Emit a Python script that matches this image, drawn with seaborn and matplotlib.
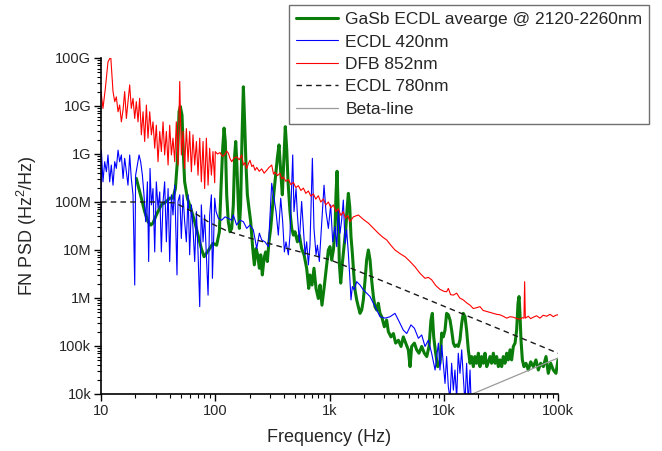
import numpy as np
import pandas as pd
import matplotlib
matplotlib.use("Agg")
import matplotlib.pyplot as plt
import seaborn as sns
from matplotlib.ticker import FixedLocator, FixedFormatter, LogLocator, NullFormatter

# ---------------- data: (log10 frequency [Hz], log10 FN PSD [Hz^2/Hz]) ----------------
labels = ["GaSb ECDL avearge @ 2120-2260nm", "ECDL 420nm", "DFB 852nm", "ECDL 780nm", "Beta-line"]

gasb = [
    (1.309, 8.49), (1.353, 8.08), (1.382, 7.80), (1.411, 7.59), (1.435, 7.52), (1.455, 7.56), (1.484, 7.73),
    (1.528, 7.94), (1.572, 8.01), (1.601, 8.08), (1.630, 8.08), (1.651, 8.28), (1.668, 8.84), (1.683, 9.88),
    (1.694, 9.99), (1.709, 9.81), (1.721, 8.98), (1.732, 8.42), (1.756, 8.08), (1.785, 7.87), (1.820, 7.59),
    (1.849, 7.31), (1.878, 7.03), (1.902, 6.86), (1.922, 6.93), (1.951, 7.03), (1.980, 7.14),
    (2.012, 7.10), (2.036, 7.38), (2.050, 8.28), (2.065, 9.12), (2.077, 9.54), (2.088, 9.26), (2.100, 8.15),
    (2.114, 7.59), (2.129, 7.38), (2.144, 7.45), (2.158, 7.94), (2.170, 8.98), (2.179, 9.26), (2.187, 8.91),
    (2.202, 7.94), (2.211, 7.45), (2.222, 7.94), (2.234, 9.33), (2.246, 10.40), (2.257, 9.67), (2.269, 8.77),
    (2.281, 8.15), (2.295, 7.87), (2.310, 7.59), (2.328, 7.03), (2.342, 6.69), (2.357, 7.03), (2.371, 6.90),
    (2.386, 6.62), (2.398, 6.90), (2.412, 6.48), (2.427, 6.83), (2.441, 6.96), (2.456, 6.76), (2.470, 7.17),
    (2.485, 7.45), (2.503, 7.94), (2.523, 8.42), (2.543, 8.91), (2.558, 9.19), (2.573, 8.63), (2.587, 8.15),
    (2.602, 8.98), (2.613, 9.57), (2.625, 9.12), (2.637, 8.42), (2.654, 7.80), (2.669, 7.45), (2.684, 7.31),
    (2.698, 7.38), (2.719, 7.17), (2.736, 7.31), (2.756, 7.03), (2.777, 6.90), (2.800, 6.62), (2.818, 6.20),
    (2.829, 6.48), (2.847, 6.27), (2.864, 6.62), (2.882, 6.20), (2.902, 5.99), (2.917, 6.27), (2.934, 5.85),
    (2.952, 6.20), (2.969, 6.55), (2.990, 7.00), (3.004, 7.07), (3.019, 6.79), (3.034, 7.00), (3.048, 7.42),
    (3.057, 8.18), (3.066, 8.64), (3.074, 8.04), (3.086, 6.72), (3.098, 6.31), (3.112, 6.72), (3.127, 7.07),
    (3.142, 7.42), (3.153, 7.83), (3.165, 8.18), (3.177, 7.90), (3.188, 7.28), (3.200, 6.93), (3.212, 6.51),
    (3.223, 6.17), (3.238, 5.96), (3.252, 5.82), (3.267, 5.68), (3.282, 5.75), (3.296, 5.96), (3.311, 6.37),
    (3.325, 6.79), (3.340, 7.00), (3.355, 6.79), (3.369, 6.37), (3.384, 6.03), (3.398, 5.82), (3.413, 5.75),
    (3.427, 5.89), (3.442, 5.68), (3.457, 5.61), (3.480, 5.40), (3.500, 5.54), (3.515, 5.30), (3.538, 5.19),
    (3.559, 5.26), (3.579, 5.06), (3.603, 5.12), (3.626, 4.99), (3.646, 5.19), (3.667, 5.06), (3.690, 4.92),
    (3.705, 4.57), (3.719, 4.99), (3.743, 5.06), (3.763, 4.92), (3.783, 4.85), (3.807, 4.99), (3.830, 4.85),
    (3.851, 4.78), (3.871, 4.99), (3.888, 5.54), (3.900, 5.68), (3.912, 5.19), (3.929, 4.85), (3.947, 4.57),
    (3.967, 4.64), (3.982, 5.27), (3.996, 5.19), (4.011, 5.33), (4.025, 5.68), (4.040, 5.65), (4.055, 5.54),
    (4.069, 5.33), (4.084, 5.06), (4.098, 4.99), (4.113, 5.02), (4.127, 4.99), (4.142, 5.13), (4.157, 5.47),
    (4.171, 5.68), (4.186, 5.61), (4.200, 5.33), (4.215, 4.92), (4.230, 4.64), (4.244, 4.78), (4.259, 4.57),
    (4.273, 4.78), (4.288, 4.64), (4.303, 4.85), (4.317, 4.57), (4.332, 4.78), (4.346, 4.64), (4.361, 4.85),
    (4.376, 4.57), (4.390, 4.66), (4.405, 4.78), (4.419, 4.64), (4.434, 4.85), (4.449, 4.64), (4.463, 4.78),
    (4.478, 4.57), (4.492, 4.71), (4.507, 4.57), (4.521, 4.78), (4.536, 4.64), (4.551, 4.85), (4.565, 4.71),
    (4.580, 4.92), (4.594, 4.71), (4.609, 4.99), (4.624, 5.06), (4.638, 5.33), (4.650, 5.89), (4.659, 6.03),
    (4.667, 5.68), (4.676, 5.13), (4.688, 4.71), (4.702, 4.57), (4.720, 4.64), (4.740, 4.50), (4.761, 4.67),
    (4.784, 4.57), (4.807, 4.71), (4.828, 4.50), (4.848, 4.64), (4.872, 4.57), (4.895, 4.78), (4.915, 4.43),
    (4.936, 4.64), (4.959, 4.50), (4.982, 4.43), (5.000, 4.71),
]

ecdl420 = [
    (1.000, 7.59), (1.003, 9.08), (1.017, 8.42), (1.032, 8.84), (1.047, 8.63), (1.061, 8.98), (1.076, 8.42),
    (1.090, 8.77), (1.105, 8.35), (1.120, 8.84), (1.134, 8.70), (1.149, 9.08), (1.163, 8.84), (1.178, 8.98),
    (1.193, 8.49), (1.207, 8.91), (1.222, 8.63), (1.236, 8.35), (1.251, 8.98), (1.265, 8.49), (1.280, 8.15),
    (1.295, 6.27), (1.303, 8.56), (1.318, 8.77), (1.333, 8.98), (1.347, 8.84), (1.362, 8.56), (1.376, 8.15),
    (1.391, 7.59), (1.406, 8.42), (1.417, 6.76), (1.429, 8.70), (1.441, 7.94), (1.455, 8.28), (1.470, 6.96),
    (1.484, 8.42), (1.499, 7.87), (1.514, 8.21), (1.528, 6.96), (1.543, 8.01), (1.557, 8.42), (1.572, 7.17),
    (1.587, 8.28), (1.601, 6.76), (1.616, 8.15), (1.630, 7.73), (1.645, 8.35), (1.665, 6.48), (1.674, 8.01),
    (1.689, 8.15), (1.703, 7.24), (1.718, 8.15), (1.732, 7.59), (1.747, 7.17), (1.762, 8.15), (1.776, 6.90),
    (1.791, 7.94), (1.805, 7.45), (1.820, 6.76), (1.835, 7.80), (1.849, 6.96), (1.864, 5.82), (1.878, 7.94),
    (1.893, 7.17), (1.907, 7.73), (1.922, 6.90), (1.937, 6.06), (1.951, 7.73), (1.966, 8.15), (1.975, 6.41),
    (1.985, 7.17), (1.995, 8.08), (2.007, 7.80), (2.027, 7.66), (2.056, 7.62), (2.085, 7.69), (2.114, 7.66),
    (2.144, 7.62), (2.158, 7.73), (2.187, 7.52), (2.217, 7.62), (2.246, 7.59), (2.275, 7.45), (2.304, 7.52),
    (2.333, 7.42), (2.363, 7.03), (2.386, 7.35), (2.406, 7.21), (2.435, 7.17), (2.465, 7.07), (2.494, 8.39),
    (2.514, 8.08), (2.532, 7.80), (2.552, 7.31), (2.573, 8.08), (2.590, 7.59), (2.605, 6.96), (2.619, 7.17),
    (2.640, 6.90), (2.654, 7.31), (2.678, 8.98), (2.689, 7.80), (2.707, 8.28), (2.719, 7.73), (2.736, 7.17),
    (2.756, 8.01), (2.771, 7.45), (2.786, 6.90), (2.800, 7.17), (2.815, 6.69), (2.829, 7.10), (2.850, 8.91),
    (2.864, 7.45), (2.882, 6.90), (2.894, 7.10), (2.911, 6.76), (2.932, 7.59), (2.952, 8.35), (2.969, 7.80),
    (2.990, 7.45), (3.010, 7.94), (3.028, 7.17), (3.048, 7.49), (3.063, 7.07), (3.077, 7.83), (3.092, 7.35),
    (3.106, 7.62), (3.121, 8.04), (3.136, 7.14), (3.150, 7.42), (3.165, 6.93), (3.179, 6.37), (3.188, 5.96),
    (3.200, 6.24), (3.217, 6.17), (3.238, 6.34), (3.267, 6.27), (3.296, 6.17), (3.325, 6.10), (3.355, 6.03),
    (3.384, 5.89), (3.413, 5.75), (3.442, 5.61), (3.486, 5.58), (3.530, 5.61), (3.573, 5.68), (3.603, 5.54),
    (3.646, 5.33), (3.676, 5.26), (3.713, 5.44), (3.743, 5.37), (3.778, 5.16), (3.807, 5.23), (3.836, 4.99),
    (3.865, 5.12), (3.894, 4.85), (3.924, 4.50), (3.953, 5.06), (3.967, 4.50), (3.982, 5.02), (3.996, 4.64),
    (4.011, 4.22), (4.025, 4.78), (4.040, 4.15), (4.055, 3.90), (4.069, 4.64), (4.084, 4.08), (4.098, 4.50),
    (4.113, 3.90), (4.127, 4.85), (4.142, 4.43), (4.157, 4.92), (4.171, 4.36), (4.186, 3.80), (4.200, 4.64),
    (4.215, 3.80), (4.230, 4.50), (4.244, 3.50),
]

dfb852 = [
    (1.000, 10.30), (1.017, 9.95), (1.038, 10.37), (1.061, 10.92), (1.085, 11.03), (1.105, 10.30), (1.120, 10.09),
    (1.134, 10.19), (1.149, 9.88), (1.163, 10.02), (1.178, 9.67), (1.193, 9.92), (1.207, 10.30), (1.222, 9.74),
    (1.236, 10.09), (1.251, 10.44), (1.265, 9.95), (1.280, 10.16), (1.295, 9.74), (1.309, 10.09), (1.324, 9.67),
    (1.338, 10.16), (1.353, 9.40), (1.368, 9.88), (1.382, 9.26), (1.397, 10.02), (1.411, 9.33), (1.426, 9.88),
    (1.441, 9.40), (1.455, 9.67), (1.470, 9.12), (1.484, 9.60), (1.499, 8.84), (1.514, 9.47), (1.528, 9.05),
    (1.543, 9.67), (1.557, 8.98), (1.572, 9.47), (1.587, 8.77), (1.601, 9.60), (1.616, 8.98), (1.630, 9.33),
    (1.645, 8.84), (1.659, 9.67), (1.674, 8.77), (1.689, 10.51), (1.703, 8.98), (1.718, 9.47), (1.732, 8.70),
    (1.747, 9.53), (1.762, 8.84), (1.776, 9.47), (1.791, 8.63), (1.805, 9.40), (1.820, 8.77), (1.835, 9.26),
    (1.849, 8.56), (1.864, 9.33), (1.878, 8.42), (1.893, 9.26), (1.907, 8.28), (1.922, 9.33), (1.937, 8.35),
    (1.951, 9.12), (1.966, 8.56), (1.980, 9.05), (1.995, 8.40), (2.000, 9.05), (2.020, 9.00), (2.042, 9.03),
    (2.063, 8.95), (2.085, 8.99), (2.100, 9.06), (2.114, 9.02), (2.130, 8.90), (2.144, 8.84), (2.165, 8.92),
    (2.187, 8.94), (2.210, 8.88), (2.231, 8.98), (2.246, 8.77), (2.260, 8.82), (2.275, 8.70), (2.290, 8.80),
    (2.304, 8.87), (2.320, 8.74), (2.333, 8.77), (2.348, 8.66), (2.363, 8.72), (2.385, 8.64), (2.406, 8.69),
    (2.428, 8.60), (2.450, 8.66), (2.470, 8.72), (2.494, 8.77), (2.510, 8.58), (2.523, 8.62), (2.545, 8.55),
    (2.567, 8.60), (2.582, 8.48), (2.596, 8.52), (2.618, 8.43), (2.640, 8.47), (2.662, 8.36), (2.684, 8.41),
    (2.705, 8.30), (2.727, 8.34), (2.750, 8.24), (2.771, 8.29), (2.793, 8.18), (2.815, 8.23), (2.837, 8.12),
    (2.859, 8.17), (2.880, 8.06), (2.902, 8.13), (2.924, 8.00), (2.946, 8.06), (2.968, 7.94), (2.990, 8.00),
    (3.012, 7.88), (3.034, 7.94), (3.055, 7.80), (3.077, 7.86), (3.100, 7.72), (3.120, 7.80), (3.140, 7.66),
    (3.160, 7.72), (3.179, 7.59), (3.209, 7.69), (3.252, 7.73), (3.300, 7.63), (3.340, 7.56), (3.385, 7.45),
    (3.427, 7.35), (3.465, 7.27), (3.500, 7.21), (3.540, 7.09), (3.573, 7.00), (3.620, 6.92), (3.661, 6.86),
    (3.705, 6.76), (3.748, 6.65), (3.790, 6.52), (3.836, 6.41), (3.865, 6.43), (3.894, 6.38), (3.930, 6.26),
    (3.967, 6.18), (4.000, 6.14), (4.025, 6.13), (4.040, 6.20), (4.060, 6.07), (4.084, 6.06), (4.113, 6.10),
    (4.140, 6.00), (4.171, 5.96), (4.200, 5.90), (4.230, 5.85), (4.259, 5.78), (4.290, 5.80), (4.317, 5.82),
    (4.345, 5.74), (4.376, 5.72), (4.405, 5.70), (4.434, 5.68), (4.462, 5.66), (4.492, 5.65), (4.520, 5.62),
    (4.551, 5.58), (4.580, 5.61), (4.609, 5.60), (4.640, 5.57), (4.667, 5.56), (4.690, 5.59), (4.702, 5.58),
    (4.708, 6.34), (4.714, 5.58), (4.740, 5.62), (4.760, 5.57), (4.784, 5.60), (4.812, 5.63), (4.842, 5.58),
    (4.870, 5.64), (4.901, 5.62), (4.930, 5.66), (4.959, 5.61), (4.980, 5.64), (5.000, 5.65),
]

ecdl780 = [
    (1.00, 8.00), (1.50, 8.00), (1.65, 7.98), (1.80, 7.80), (1.95, 7.57), (2.10, 7.40), (2.30, 7.25),
    (2.60, 7.05), (3.00, 6.80), (3.50, 6.32), (4.00, 5.83), (4.50, 5.34), (5.00, 4.85),
]

beta_line = [(4.25, 4.00), (5.00, 4.75)]

x_tick_values = [1e1, 1e2, 1e3, 1e4, 1e5]
x_tick_labels = ["10", "100", "1k", "10k", "100k"]
y_tick_values = [1e4, 1e5, 1e6, 1e7, 1e8, 1e9, 1e10, 1e11]
y_tick_labels = ["10k", "100k", "1M", "10M", "100M", "1G", "10G", "100G"]

# ---------------- styling ----------------
sns.set_theme(style="ticks")
plt.rcParams['font.family'] = ['Liberation Sans', 'DejaVu Sans']
plt.rcParams['mathtext.fontset'] = 'custom'
plt.rcParams['mathtext.rm'] = 'Liberation Sans'


def frame(points):
    arr = np.array(points, dtype=float)
    return pd.DataFrame({"f": 10 ** arr[:, 0], "psd": 10 ** arr[:, 1]})


fig = plt.figure(figsize=(6.62, 4.51), dpi=100)
ax = fig.add_axes([0.1526, 0.1264, 0.6903, 0.745])

series = [
    (gasb, dict(color="#0b7d0b", lw=2.2, ls="-")),
    (ecdl420, dict(color="#0000ff", lw=0.8, ls="-")),
    (dfb852, dict(color="#ff0000", lw=0.8, ls="-")),
    (ecdl780, dict(color="#1a1a1a", lw=1.0, ls=(0, (4, 3)))),
    (beta_line, dict(color="#9a9a9a", lw=0.9, ls="-")),
]
for (pts, st), lab in zip(series, labels):
    sns.lineplot(data=frame(pts), x="f", y="psd", sort=False, estimator=None,
                 color=st["color"], linewidth=st["lw"], linestyle=st["ls"], label=lab, ax=ax)

if ax.get_legend() is not None:
    ax.get_legend().remove()

ax.set_xscale("log")
ax.set_yscale("log")
ax.set_xlim(1e1, 1e5)
ax.set_ylim(1e4, 1e11)

ax.xaxis.set_major_locator(FixedLocator(x_tick_values))
ax.xaxis.set_major_formatter(FixedFormatter(x_tick_labels))
ax.yaxis.set_major_locator(FixedLocator(y_tick_values))
ax.yaxis.set_major_formatter(FixedFormatter(y_tick_labels))
ax.xaxis.set_minor_locator(LogLocator(base=10, subs=np.arange(2, 10), numticks=20))
ax.yaxis.set_minor_locator(LogLocator(base=10, subs=np.arange(2, 10), numticks=20))
ax.xaxis.set_minor_formatter(NullFormatter())
ax.yaxis.set_minor_formatter(NullFormatter())

ax.tick_params(which="major", direction="out", length=5, width=1.0, labelsize=10.5, color="black", pad=2)
ax.tick_params(which="minor", direction="out", length=3, width=0.8, color="black")
for side in ["top", "right"]:
    ax.spines[side].set_visible(False)
for side in ["left", "bottom"]:
    ax.spines[side].set_linewidth(1.2)
    ax.spines[side].set_color("black")

ax.set_xlabel("Frequency (Hz)", fontsize=13)
ax.set_ylabel("FN PSD (Hz$^2$/Hz)", fontsize=13)
ax.xaxis.set_label_coords(0.5, -0.105)
ax.yaxis.set_label_coords(-0.135, 0.5)

handles, labs = ax.get_legend_handles_labels()
leg = fig.legend(handles, labs, loc="upper left", bbox_to_anchor=(289 / 662, 1 - 5 / 451),
                 frameon=True, fancybox=False, framealpha=1, edgecolor="#707070",
                 fontsize=12.5, handlelength=2.4, handletextpad=0.45, labelspacing=0.42,
                 borderpad=0.4, borderaxespad=0.0)
leg.get_frame().set_linewidth(1.0)

fig.savefig("out.png", dpi=100)
